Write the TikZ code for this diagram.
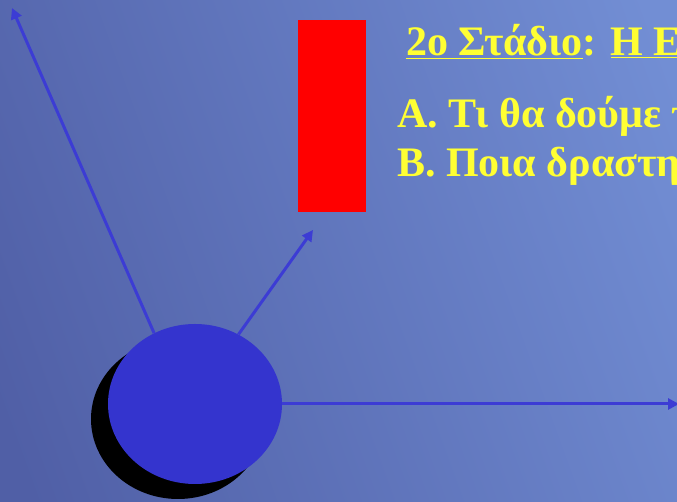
\documentclass[tikz,border=0pt]{standalone}
\usepackage{fontspec}
\setmainfont{Liberation Serif}
\usetikzlibrary{arrows.meta,shapes.geometric}
\definecolor{bgdark}{RGB}{80,95,166}
\definecolor{bglight}{RGB}{114,142,212}
\definecolor{ballblue}{RGB}{52,52,206}
\definecolor{arrowblue}{RGB}{60,60,212}
\definecolor{txtyellow}{RGB}{255,255,51}
\begin{document}
\begin{tikzpicture}[x=1pt,y=1pt,
  conn/.style={draw=arrowblue, line width=3pt, -{Triangle[length=11pt,width=11pt]}},
  txt/.style={text=txtyellow, font=\fontsize{42}{50}\selectfont\bfseries, anchor=base west, inner sep=0pt}
]
\useasboundingbox (0,0) rectangle (677,502);
\clip (0,0) rectangle (677,502);
\shade[top color=bgdark, bottom color=bglight, shading angle=110] (-60,-60) rectangle (737,562);
\node[fill=red, minimum width=68pt, minimum height=192pt, inner sep=0pt, anchor=north west] (bar) at (298,482) {};
\fill[black] (178,83) ellipse [x radius=87, y radius=80];
\node[ellipse, fill=ballblue, minimum width=174pt, minimum height=160pt, inner sep=0pt] (ball) at (195,98) {};
\coordinate (tipA) at (12,494);
\coordinate (tipB) at (313,272);
\coordinate (tipC) at (679,98);
\draw[conn] (ball.120) -- (tipA);
\draw[conn] (ball.58) -- (tipB);
\draw[conn] (ball.east) -- (tipC);
\node[txt] (title) at (406,446) {\underline{2ο Στάδιο}: \underline{Η Ε}};
\node[txt] (lineA) at (397,374) {Α. Τι θα δούμε τ};
\node[txt] (lineB) at (397,325) {Β. Ποια δραστη};
\end{tikzpicture}
\end{document}
